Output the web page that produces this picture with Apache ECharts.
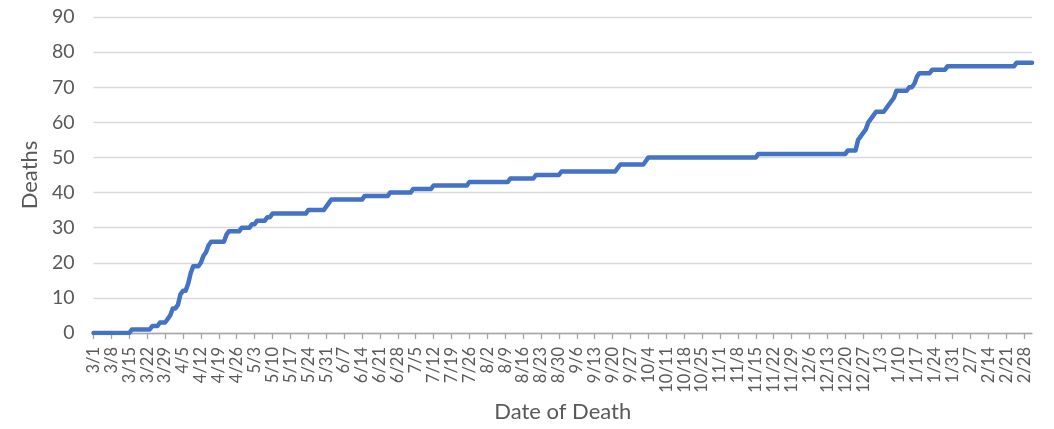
<!DOCTYPE html>
<html>
<head>
<meta charset="utf-8">
<script src="https://cdn.jsdelivr.net/npm/echarts@6/dist/echarts.min.js"></script>
<style>
html,body{margin:0;padding:0;background:#ffffff;}
#chart{width:1054px;height:429px;}
</style>
</head>
<body>
<div id="chart"></div>
<script>
// ---- data ----
const startDate = '2020-03-01';
const endDate = '2021-03-03';
// dates on which the cumulative count changed, and the cumulative count from that date on
const changeDates = [
  '2020-03-01','2020-03-16','2020-03-24','2020-03-27','2020-03-30','2020-03-31',
  '2020-04-01','2020-04-03','2020-04-04','2020-04-05','2020-04-07','2020-04-08',
  '2020-04-09','2020-04-12','2020-04-13','2020-04-14','2020-04-15','2020-04-16',
  '2020-04-22','2020-04-23','2020-04-28','2020-05-02','2020-05-04','2020-05-08',
  '2020-05-10','2020-05-24','2020-05-31','2020-06-01','2020-06-02','2020-06-15',
  '2020-06-25','2020-07-04','2020-07-12','2020-07-26','2020-08-11','2020-08-21',
  '2020-08-31','2020-09-22','2020-09-23','2020-10-03','2020-10-04','2020-11-16',
  '2020-12-21','2020-12-25','2020-12-26','2020-12-27','2020-12-28','2020-12-29',
  '2020-12-30','2020-12-31','2021-01-01','2021-01-05','2021-01-06','2021-01-07',
  '2021-01-08','2021-01-09','2021-01-14','2021-01-16','2021-01-17','2021-01-18',
  '2021-01-23','2021-01-29','2021-02-25'
];
const cumulativeDeaths = [
  0,1,2,3,4,5,
  7,8,11,12,14,17,
  19,20,22,23,25,26,
  28,29,30,31,32,33,
  34,35,36,37,38,39,
  40,41,42,43,44,45,
  46,47,48,49,50,51,
  52,55,56,57,58,60,
  61,62,63,64,65,66,
  67,69,70,71,73,74,
  75,76,77
];
const yTicks = [0,10,20,30,40,50,60,70,80,90];

// ---- build categories (one per day) ----
function iso(d){return d.toISOString().slice(0,10);}
const categories = [];
{
  let d = new Date(startDate + 'T00:00:00Z');
  const end = new Date(endDate + 'T00:00:00Z');
  while (d <= end) { categories.push(iso(d)); d = new Date(d.getTime() + 86400000); }
}
const daily = categories.map(c => {
  let v = null;
  for (let i = 0; i < changeDates.length; i++) { if (changeDates[i] <= c) v = cumulativeDeaths[i]; }
  return v;
});
function md(s){const p=s.split('-');return (+p[1])+'/'+(+p[2]);}

const FONT = 'Lato, "Open Sans", sans-serif';
const chart = echarts.init(document.getElementById('chart'), null, {renderer:'canvas'});
chart.setOption({
  animation:false,
  backgroundColor:'#ffffff',
  grid:{left:93.5,right:22,top:17,bottom:96,containLabel:false},
  xAxis:{
    type:'category',
    data:categories,
    boundaryGap:false,
    name:'Date of Death',
    nameLocation:'middle',
    nameGap:64,
    nameTextStyle:{fontFamily:FONT,fontSize:22,color:'#595959'},
    axisLine:{lineStyle:{color:'#a6a6a6',width:1.3}},
    axisTick:{show:true,interval:6,length:6,lineStyle:{color:'#a6a6a6',width:1.3}},
    axisLabel:{interval:6,rotate:90,margin:14,fontFamily:FONT,fontSize:16.5,color:'#595959',
      formatter:(v)=>md(v)},
    splitLine:{show:false}
  },
  yAxis:{
    type:'value',
    min:yTicks[0],max:yTicks[yTicks.length-1],interval:10,
    name:'Deaths',
    nameLocation:'middle',
    nameGap:52,
    nameTextStyle:{fontFamily:FONT,fontSize:22,color:'#595959'},
    axisLine:{show:false},
    axisTick:{show:false},
    axisLabel:{margin:19,fontFamily:FONT,fontSize:19.5,color:'#595959'},
    splitLine:{lineStyle:{color:'#d9d9d9',width:1.3}}
  },
  series:[{
    type:'line',
    data:daily,
    showSymbol:false,
    symbol:'none',
    lineStyle:{color:'#4472c4',width:4.5,join:'round',cap:'round'},
    itemStyle:{color:'#4472c4'}
  }]
});
</script>
</body>
</html>
